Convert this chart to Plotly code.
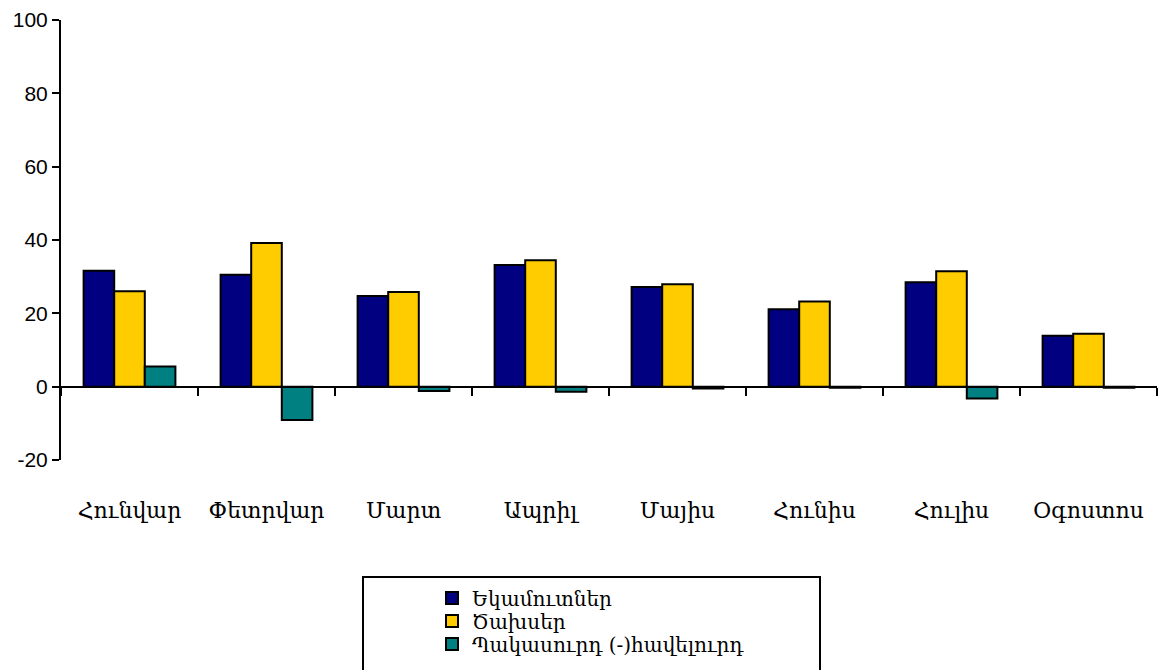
import plotly.graph_objects as go

months = ["Հունվար", "Փետրվար", "Մարտ", "Ապրիլ", "Մայիս", "Հունիս", "Հուլիս", "Օգոստոս"]
exports = [31.6, 30.5, 24.7, 33.2, 27.2, 21.1, 28.5, 13.9]
expenses = [26.0, 39.2, 25.8, 34.5, 27.9, 23.2, 31.5, 14.4]
balance = [5.5, -9.1, -1.2, -1.4, -0.5, -0.3, -3.2, -0.3]
y_ticks = [-20, 0, 20, 40, 60, 80, 100]
y_tick_text = ["-20", "0", "20", "40", "60", "80", "100"]

series_names = ["Եկամուտներ", "Ծախսեր", "Պակասուրդ (-)հավելուրդ"]
series_colors = ["#000080", "#FFCC00", "#008080"]
legend_ids = ["legend", "legend2", "legend3"]

fig = go.Figure()
for name, vals, col, lg in zip(series_names, [exports, expenses, balance], series_colors, legend_ids):
    fig.add_trace(go.Bar(x=months, y=vals, name=name, legend=lg,
                         marker=dict(color=col, line=dict(color="black", width=2))))

W, H = 1159, 670
mt, mb, ml, mr = 20, 210, 61, 2
paper_h = H - mt - mb   # plot area 20..460
pw = W - ml - mr
ymin, ymax = -20, 100
zero_pos = (0 - ymin) / (ymax - ymin)

legend_rows_px = [598, 621, 644]
legend_style = dict(xanchor="left", yanchor="middle", bgcolor="rgba(0,0,0,0)",
                    font=dict(family="DejaVu Serif", size=20, color="black"),
                    itemwidth=30, x=(432 - ml) / pw)

fig.update_layout(
    width=W, height=H,
    margin=dict(t=mt, b=mb, l=ml, r=mr, autoexpand=False),
    plot_bgcolor="white", paper_bgcolor="white",
    barmode="group", bargap=0.33, bargroupgap=0,
    font=dict(family="Liberation Sans, Arial", color="black"),
    xaxis=dict(type="category", categoryarray=months, tickson="boundaries",
               ticks="outside", ticklen=8, tickwidth=2,
               tickcolor="black", showline=True, linecolor="black", linewidth=2,
               anchor="free", position=zero_pos, showgrid=False, zeroline=False,
               range=[-0.5, 7.5], automargin=False, ticklabelstandoff=104,
               tickfont=dict(family="DejaVu Serif", size=22, color="black")),
    yaxis=dict(range=[ymin, ymax], tickmode="array", tickvals=y_ticks, ticktext=y_tick_text,
               ticks="outside", ticklen=7, tickwidth=2, tickcolor="black",
               showline=True, linecolor="black", linewidth=2, showgrid=False,
               zeroline=False, automargin=False,
               tickfont=dict(size=21, family="Liberation Sans, Arial")),
    legend=dict(y=(460 - legend_rows_px[0]) / paper_h, **legend_style),
    legend2=dict(y=(460 - legend_rows_px[1]) / paper_h, **legend_style),
    legend3=dict(y=(460 - legend_rows_px[2]) / paper_h, **legend_style),
    showlegend=True,
)

# legend frame
fig.add_shape(type="rect", xref="paper", yref="paper",
              x0=(363 - ml) / pw, x1=(820 - ml) / pw,
              y0=(460 - 577) / paper_h, y1=(460 - 675) / paper_h,
              line=dict(color="black", width=2), fillcolor="rgba(0,0,0,0)")

fig.write_html("out.html", config={"displayModeBar": False},
               post_script="document.body.style.margin='0';document.body.style.overflow='hidden';")
